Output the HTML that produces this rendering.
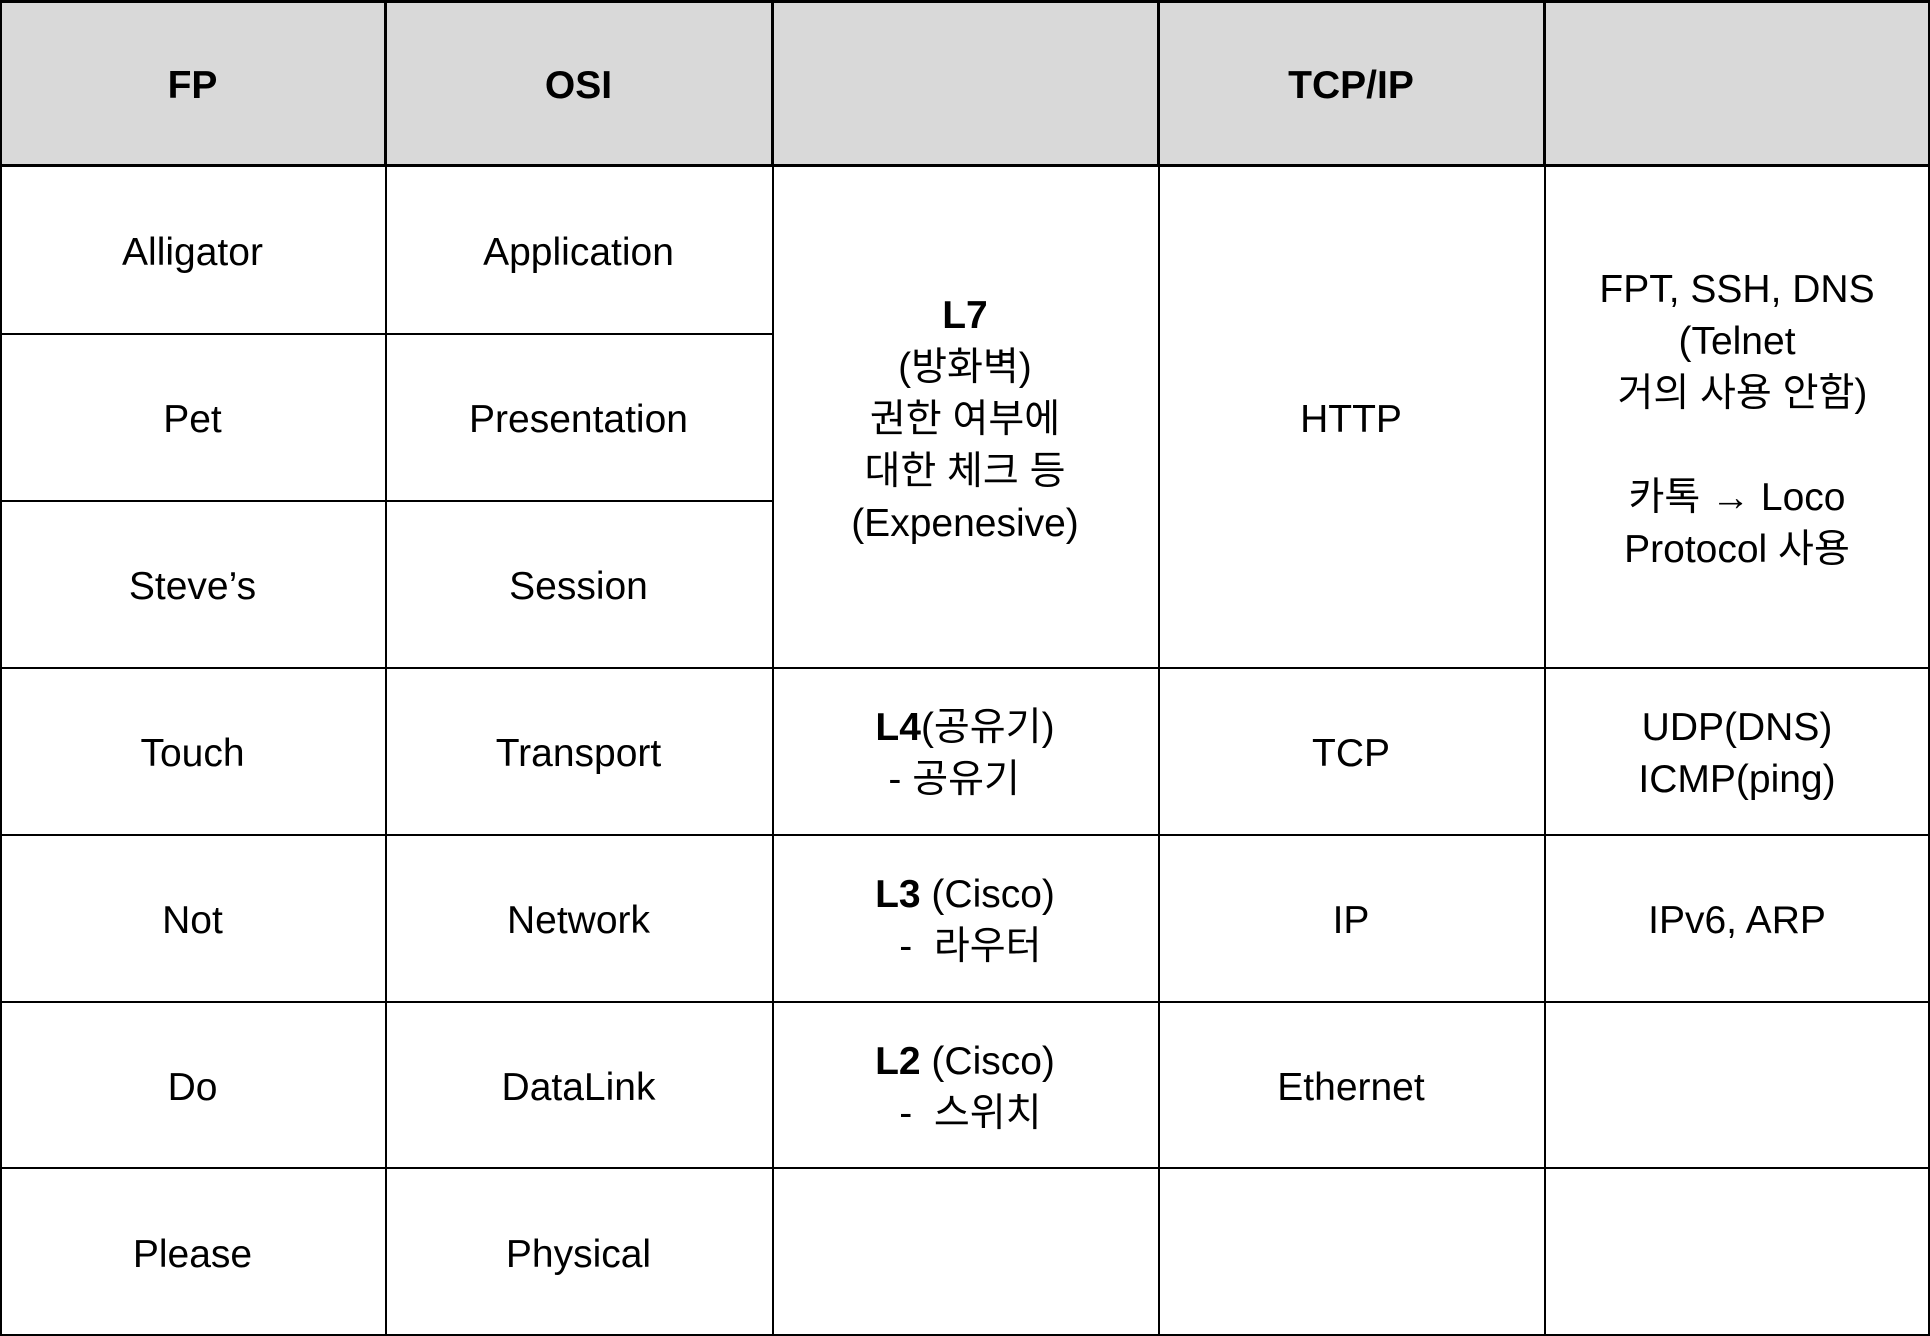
<!DOCTYPE html>
<html><head><meta charset="utf-8"><style>
body{margin:0;width:1930px;height:1336px;background:#fff;position:relative;overflow:hidden;font-family:"Liberation Sans","Noto Sans CJK KR",sans-serif;color:#000}
.c{position:absolute;display:flex;align-items:center;justify-content:center;text-align:center;font-size:39px;line-height:52px;box-sizing:border-box;padding-top:5px}
.h{background:#d9d9d9;font-weight:bold}
.l{position:absolute;background:#000}
b{font-weight:bold}
</style></head><body>
<div class="c h" style="left:0;top:0;width:1930px;height:166px"></div>
<div class="c h" style="left:0;top:0;width:385px;height:166px">FP</div>
<div class="c h" style="left:385px;top:0;width:387px;height:166px">OSI</div>
<div class="c h" style="left:1158px;top:0;width:386px;height:166px">TCP/IP</div>

<div class="c" style="left:0;top:166px;width:385px;height:168px">Alligator</div>
<div class="c" style="left:0;top:334px;width:385px;height:167px">Pet</div>
<div class="c" style="left:0;top:501px;width:385px;height:167px">Steve’s</div>
<div class="c" style="left:0;top:668px;width:385px;height:167px">Touch</div>
<div class="c" style="left:0;top:835px;width:385px;height:167px">Not</div>
<div class="c" style="left:0;top:1002px;width:385px;height:166px">Do</div>
<div class="c" style="left:0;top:1168px;width:385px;height:168px">Please</div>

<div class="c" style="left:385px;top:166px;width:387px;height:168px">Application</div>
<div class="c" style="left:385px;top:334px;width:387px;height:167px">Presentation</div>
<div class="c" style="left:385px;top:501px;width:387px;height:167px">Session</div>
<div class="c" style="left:385px;top:668px;width:387px;height:167px">Transport</div>
<div class="c" style="left:385px;top:835px;width:387px;height:167px">Network</div>
<div class="c" style="left:385px;top:1002px;width:387px;height:166px">DataLink</div>
<div class="c" style="left:385px;top:1168px;width:387px;height:168px">Physical</div>

<div class="c" style="left:772px;top:166px;width:386px;height:502px"><div><b>L7</b><br>(방화벽)<br>권한 여부에<br>대한 체크 등<br>(Expenesive)</div></div>
<div class="c" style="left:772px;top:668px;width:386px;height:167px"><div><b>L4</b>(공유기)<br>- 공유기&nbsp;&nbsp;</div></div>
<div class="c" style="left:772px;top:835px;width:386px;height:167px"><div><b>L3</b> (Cisco)<br>&nbsp;-&nbsp; 라우터</div></div>
<div class="c" style="left:772px;top:1002px;width:386px;height:166px"><div><b>L2</b> (Cisco)<br>&nbsp;-&nbsp; 스위치</div></div>

<div class="c" style="left:1158px;top:166px;width:386px;height:502px">HTTP</div>
<div class="c" style="left:1158px;top:668px;width:386px;height:167px">TCP</div>
<div class="c" style="left:1158px;top:835px;width:386px;height:167px">IP</div>
<div class="c" style="left:1158px;top:1002px;width:386px;height:166px">Ethernet</div>

<div class="c" style="left:1544px;top:166px;width:386px;height:502px"><div>FPT, SSH, DNS<br>(Telnet<br>&nbsp;거의 사용 안함)<br><br>카톡 → Loco<br>Protocol 사용</div></div>
<div class="c" style="left:1544px;top:668px;width:386px;height:167px"><div>UDP(DNS)<br>ICMP(ping)</div></div>
<div class="c" style="left:1544px;top:835px;width:386px;height:167px">IPv6, ARP</div>

<div class="l" style="left:0;top:0;width:1930px;height:3px"></div>
<div class="l" style="left:0;top:164px;width:1930px;height:3px"></div>
<div class="l" style="left:0;top:333px;width:772px;height:2px"></div>
<div class="l" style="left:0;top:500px;width:772px;height:2px"></div>
<div class="l" style="left:0;top:667px;width:1930px;height:2px"></div>
<div class="l" style="left:0;top:834px;width:1930px;height:2px"></div>
<div class="l" style="left:0;top:1001px;width:1930px;height:2px"></div>
<div class="l" style="left:0;top:1167px;width:1930px;height:2px"></div>
<div class="l" style="left:0;top:1334px;width:1930px;height:2px"></div>
<div class="l" style="left:0;top:0;width:2px;height:1336px"></div>
<div class="l" style="left:1928px;top:0;width:2px;height:1336px"></div>
<div class="l" style="left:384px;top:0;width:3px;height:166px"></div>
<div class="l" style="left:771px;top:0;width:3px;height:166px"></div>
<div class="l" style="left:1157px;top:0;width:3px;height:166px"></div>
<div class="l" style="left:1543px;top:0;width:3px;height:166px"></div>
<div class="l" style="left:385px;top:166px;width:2px;height:1170px"></div>
<div class="l" style="left:772px;top:166px;width:2px;height:1170px"></div>
<div class="l" style="left:1158px;top:166px;width:2px;height:1170px"></div>
<div class="l" style="left:1544px;top:166px;width:2px;height:1170px"></div>
</body></html>
